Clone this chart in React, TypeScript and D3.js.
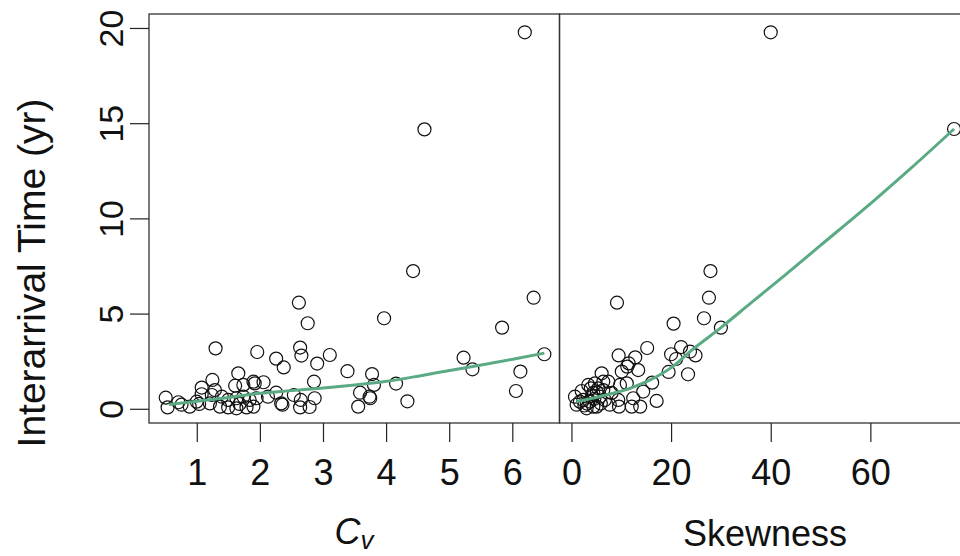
import React from "react";
import * as d3 from "d3";

// Left panel: coefficient of variation vs interarrival time
const cvX = [4.42, 2.61, 6.33, 2.75, 3.96, 5.83, 1.29, 1.95, 2.63, 2.65, 2.25, 2.37, 3.10, 2.90, 5.22, 6.50, 5.36, 6.12, 6.05, 3.38, 3.77, 3.80, 4.15, 3.58, 3.73, 3.74, 3.55, 4.33, 2.85, 2.86, 2.78, 2.63, 2.64, 2.53, 2.33, 2.35, 2.25, 2.12, 1.65, 2.05, 1.91, 1.89, 1.73, 1.60, 1.24, 1.07, 1.07, 1.28, 1.23, 1.39, 1.49, 1.62, 1.73, 1.83, 1.94, 1.20, 1.03, 1.36, 1.49, 1.62, 1.78, 1.89, 1.67, 0.50, 0.53, 0.70, 0.75, 0.88, 0.99, 6.19, 4.60];
const cvY = [7.26, 5.60, 5.86, 4.52, 4.78, 4.29, 3.20, 3.01, 3.24, 2.82, 2.66, 2.20, 2.85, 2.40, 2.71, 2.89, 2.10, 1.98, 0.96, 2.00, 1.85, 1.28, 1.35, 0.87, 0.66, 0.58, 0.14, 0.42, 1.45, 0.58, 0.12, 0.10, 0.49, 0.75, 0.31, 0.24, 0.87, 0.66, 1.89, 1.42, 1.36, 1.45, 1.28, 1.24, 1.54, 1.14, 0.79, 1.01, 0.75, 0.66, 0.49, 0.58, 0.66, 0.49, 0.58, 0.31, 0.28, 0.14, 0.10, 0.05, 0.10, 0.14, 0.28, 0.61, 0.10, 0.37, 0.24, 0.14, 0.40, 19.8, 14.7];

// Right panel: skewness vs interarrival time
const skX = [27.8, 9.04, 27.5, 20.4, 26.5, 29.9, 15.1, 9.37, 12.7, 21.9, 19.9, 23.7, 24.8, 20.9, 11.4, 11.1, 13.3, 10.0, 19.4, 23.3, 16.1, 5.96, 6.29, 11.0, 9.64, 14.3, 17.0, 13.7, 12.0, 9.44, 12.3, 9.3, 3.27, 4.62, 7.3, 0.6, 0.94, 2.27, 3.6, 4.3, 5.6, 6.6, 4.96, 2.95, 7.97, 1.95, 7.6, 4.3, 1.6, 6.29, 5.3, 39.9, 76.7, 3.0, 4.0, 5.0, 2.5, 3.8, 5.8, 4.5];
const skY = [7.26, 5.60, 5.86, 4.50, 4.78, 4.29, 3.22, 2.83, 2.73, 3.27, 2.89, 3.03, 2.83, 2.64, 2.41, 2.24, 2.06, 1.98, 1.96, 1.84, 1.40, 1.89, 1.45, 1.36, 1.28, 0.93, 0.44, 0.14, 0.14, 0.14, 0.58, 0.49, 1.28, 1.36, 1.45, 0.66, 0.24, 0.49, 0.40, 0.86, 0.66, 0.49, 0.14, 0.05, 0.86, 0.96, 0.24, 0.14, 0.40, 1.01, 1.10, 19.8, 14.72, 0.30, 0.70, 0.90, 0.20, 1.10, 0.30, 0.55];

// Smooth fitted curves
const cvFitX = [0.55, 1, 1.5, 2, 2.5, 3, 3.5, 4, 4.5, 5, 5.5, 6, 6.5];
const cvFitY = [0.25, 0.42, 0.62, 0.84, 0.98, 1.12, 1.28, 1.47, 1.74, 2.04, 2.33, 2.63, 2.95];
const skFitX = [0.9, 6, 11.6, 15.7, 20, 23.7, 29.9, 36, 42.4, 50, 60.8, 68, 76.7];
const skFitY = [0.4, 0.7, 1.1, 1.54, 2.2, 3.03, 4.29, 5.6, 6.97, 8.63, 11.0, 12.65, 14.72];

const cvTicks = [1, 2, 3, 4, 5, 6];
const skTicks = [0, 20, 40, 60];
const yTicks = [0, 5, 10, 15, 20];

const FONT = "'Liberation Sans', Arial, Helvetica, sans-serif";
const GREEN = "#5aab84";

export default function App() {
  const W = 960, H = 556;
  const top = 14, bottom = 423, left = 149, mid = 559.5, right = 970;
  const y = d3.scaleLinear().domain([-0.72, 20.76]).range([bottom, top]);
  const xL = d3.scaleLinear().domain([0.235, 6.74]).range([left, mid]);
  const xR = d3.scaleLinear().domain([-2.5, 79.9]).range([mid, right]);

  const lineL = d3.line<number>().x((_, i) => xL(cvFitX[i])).y((d) => y(d)).curve(d3.curveMonotoneX);
  const lineR = d3.line<number>().x((_, i) => xR(skFitX[i])).y((d) => y(d)).curve(d3.curveMonotoneX);

  const r = 6.5;
  return (
    <svg width={W} height={H} style={{ position: "absolute", left: 0, top: 0, background: "#fff" }} fontFamily={FONT}>
      <rect x={0} y={0} width={W} height={H} fill="#fff" />
      {/* frames */}
      <rect x={left} y={top} width={mid - left} height={bottom - top} fill="none" stroke="#333" strokeWidth={1.3} />
      <rect x={mid} y={top} width={right - mid} height={bottom - top} fill="none" stroke="#333" strokeWidth={1.3} />

      {/* points left */}
      {cvX.map((v, i) => (
        <circle key={"l" + i} cx={xL(v)} cy={y(cvY[i])} r={r} fill="none" stroke="#111" strokeWidth={1.2} />
      ))}
      {/* points right */}
      {skX.map((v, i) => (
        <circle key={"r" + i} cx={xR(v)} cy={y(skY[i])} r={r} fill="none" stroke="#111" strokeWidth={1.2} />
      ))}

      <path d={lineL(cvFitY) || ""} fill="none" stroke={GREEN} strokeWidth={3} />
      <path d={lineR(skFitY) || ""} fill="none" stroke={GREEN} strokeWidth={3} />

      {/* y axis */}
      {yTicks.map((t) => (
        <g key={"y" + t}>
          <line x1={130} x2={left} y1={y(t)} y2={y(t)} stroke="#222" strokeWidth={1.2} />
          <text transform={`translate(123,${y(t)}) rotate(-90)`} textAnchor="middle" fontSize={34} fill="#111">
            {t}
          </text>
        </g>
      ))}
      <text transform={`translate(45,273) rotate(-90)`} textAnchor="middle" fontSize={39} fill="#111">
        Interarrival Time (yr)
      </text>

      {/* x axes */}
      {cvTicks.map((t) => (
        <g key={"cx" + t}>
          <line x1={xL(t)} x2={xL(t)} y1={bottom} y2={442} stroke="#222" strokeWidth={1.2} />
          <text x={xL(t)} y={485} textAnchor="middle" fontSize={36} fill="#111">{t}</text>
        </g>
      ))}
      {skTicks.map((t) => (
        <g key={"sx" + t}>
          <line x1={xR(t)} x2={xR(t)} y1={bottom} y2={442} stroke="#222" strokeWidth={1.2} />
          <text x={xR(t)} y={485} textAnchor="middle" fontSize={36} fill="#111">{t}</text>
        </g>
      ))}

      <text x={354} y={544} textAnchor="middle" fontSize={36} fill="#111" fontStyle="italic">
        C<tspan fontSize={26} dy={5}>v</tspan>
      </text>
      <text x={765} y={546} textAnchor="middle" fontSize={36} fill="#111">Skewness</text>
    </svg>
  );
}
